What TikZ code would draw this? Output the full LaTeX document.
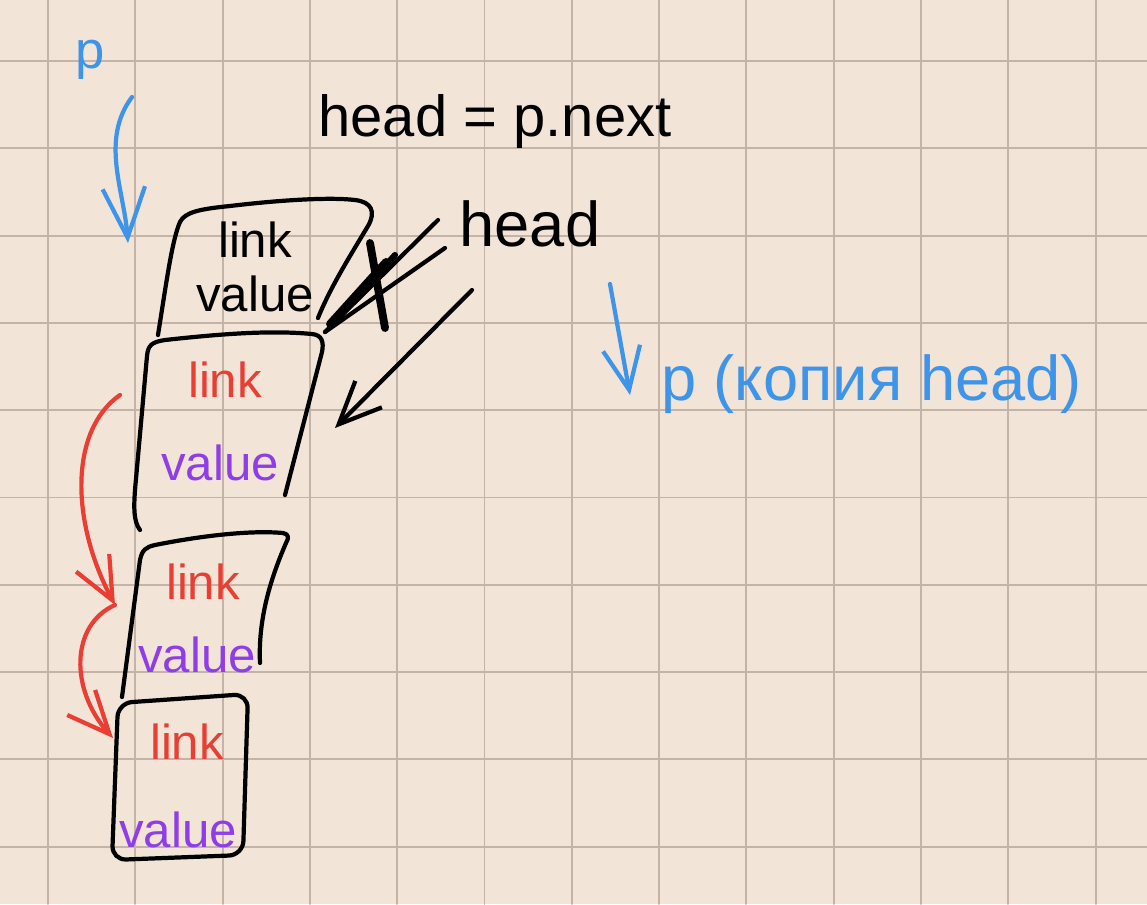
\documentclass[tikz,border=0pt]{standalone}
\usepackage{fontspec}
\setmainfont{Liberation Sans}
\usepackage{xcolor}
\definecolor{paper}{RGB}{243,228,216}
\definecolor{gridbrown}{RGB}{196,180,168}
\definecolor{penblue}{RGB}{62,148,232}
\definecolor{penred}{RGB}{232,62,52}
\definecolor{penpurple}{RGB}{142,62,232}
\usetikzlibrary{arrows.meta,positioning,calc}

\begin{document}
\begin{tikzpicture}[x=0.02cm,y=-0.02cm,line cap=round,line join=round,node distance=0.35cm]
  \tikzstyle{pen}=[line width=2.4pt]
  \tikzstyle{gridline}=[draw=gridbrown,line width=1.1pt]
  \tikzstyle{lbl}=[font=\fontsize{28}{30}\selectfont,inner sep=0pt]
  \tikzstyle{barb}=[-{Straight Barb[length=8.5mm,width=7.5mm,line width=2.4pt]}]
  \useasboundingbox (0,0) rectangle (1147,904);
  \fill[paper] (0,0) rectangle (1147,904);
  % squared paper
  \foreach \i in {0,...,12} \draw[gridline] ({48+87.3*\i},0) -- ({48+87.3*\i},904);
  \foreach \j in {0,...,9} \draw[gridline] (0,{61+87.3*\j}) -- (1147,{61+87.3*\j});
  % boxes of the list
  \draw[pen] (158,335) .. controls (166,285) and (172,240) .. (180,222) .. controls (185,212) and (200,209) .. (230,206) .. controls (280,200) and (330,197) .. (355,200) .. controls (372,202) and (376,212) .. (368,226) .. controls (350,256) and (330,288) .. (318,318);
  \draw[pen] (140,530) .. controls (133,521) and (134,505) .. (135,490) -- (147,356) .. controls (148,345) and (152,342) .. (165,340) .. controls (220,334) and (270,330) .. (312,334) .. controls (322,335) and (324,342) .. (322,352) -- (285,495);
  \draw[pen] (122,697) -- (140,560) .. controls (142,550) and (146,547) .. (155,545) .. controls (200,536) and (250,530) .. (283,533) .. controls (289,534) and (289,538) .. (286,543) .. controls (270,580) and (258,620) .. (260,663);
  \draw[pen,rounded corners=8] (118,703) -- (248,694) -- (243,855) -- (112,860) -- cycle;
  \node[lbl] (lnka) at (255,240) {link};
  \node[lbl,below=of lnka] (vala) {value};
  \node[lbl,text=penred] (lnkb) at (225,380) {link};
  \node[lbl,text=penpurple] (valb) at (220,463) {value};
  \node[lbl,text=penred] (lnkc) at (203,582) {link};
  \node[lbl,text=penpurple] (valc) at (197,655) {value};
  \node[lbl,text=penred] (lnkd) at (187,742) {link};
  \node[lbl,text=penpurple] (vald) at (178,830) {value};
  % texts
  \node[text=penblue,font=\fontsize{30}{32}\selectfont] (ptop) at (90,60) {p};
  \node[font=\fontsize{33}{36}\selectfont] (assign) at (495,122) {head = p.next};
  \node[font=\fontsize{36}{38}\selectfont] (headlbl) at (530,224) {head};
  \node[text=penblue,font=\fontsize{36}{38}\selectfont,anchor=base west] (pcopy) at (655,400) {p (копия head)};
  % connectors
  \coordinate (pstart) at (132,97);
  \coordinate (boxain) at (128,243);
  \coordinate (boxacorner) at (325,332);
  \coordinate (oldfroma) at (438,220);
  \coordinate (oldfromb) at (445,248);
  \coordinate (newfrom) at (472,290);
  \coordinate (boxbin) at (335,428);
  \coordinate (boxbleft) at (120,395);
  \coordinate (boxcleft) at (115,605);
  \coordinate (boxdleft) at (113,738);
  \coordinate (pdown) at (610,284);
  \draw[pen,penblue,-{Straight Barb[length=10mm,width=8.5mm,line width=2.4pt]}] (pstart) .. controls (100,140) and (124,190) .. (boxain);
  \draw[pen] (oldfroma) -- (boxacorner);
  \draw[pen] (oldfromb) -- (boxacorner);
  % scribbled-out old arrow head
  \draw[line width=4.5pt] (370,243) -- (385,328);
  \draw[line width=4.5pt] (330,324) -- (386,262);
  \draw[line width=3.5pt] (338,318) -- (395,255);
  \draw[pen,barb] (newfrom) -- (boxbin);
  \draw[pen,penred,barb] (boxbleft) .. controls (70,430) and (70,520) .. (boxcleft);
  \draw[pen,penred,barb] (boxcleft) .. controls (70,625) and (70,690) .. (boxdleft);
  \draw[pen,penblue,barb] (pdown) -- ($(pcopy.base west)+(-25,-5)$);
\end{tikzpicture}
\end{document}
